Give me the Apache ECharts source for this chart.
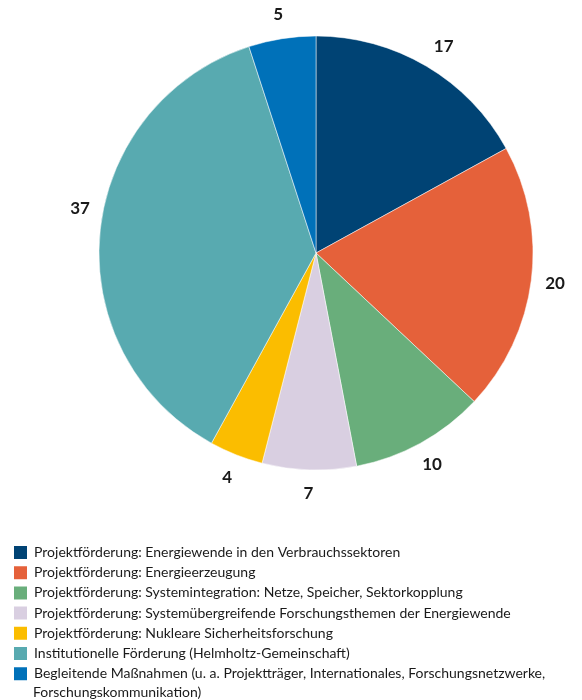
<!DOCTYPE html>
<html>
<head>
<meta charset="utf-8">
<script src="https://cdn.jsdelivr.net/npm/echarts@6/dist/echarts.min.js"></script>
<style>
    html, body { margin: 0; padding: 0; background: #fff; }
    #chart { width: 582px; height: 700px; }
</style>
</head>
<body>
<div id="chart"></div>
<script>
// Anteile in Prozent
var categories = [
    'Projektförderung: Energiewende in den Verbrauchssektoren',
    'Projektförderung: Energieerzeugung',
    'Projektförderung: Systemintegration: Netze, Speicher, Sektorkopplung',
    'Projektförderung: Systemübergreifende Forschungsthemen der Energiewende',
    'Projektförderung: Nukleare Sicherheitsforschung',
    'Institutionelle Förderung (Helmholtz-Gemeinschaft)',
    'Begleitende Maßnahmen (u. a. Projektträger, Internationales, Forschungsnetzwerke, Forschungskommunikation)'
]
var values = [17, 20, 10, 7, 4, 37, 5]
var colors = ['#004374', '#e5613a', '#69ae7b', '#d9cfe1', '#fbbd00', '#58aab0', '#0071b9']

var font = 'Lato'
var center = [316, 253]
var wrapAt = 'Forschungsnetzwerke, '

var pieData = categories.map(function (name, i) {
    return { name: name, value: values[i], itemStyle: { color: colors[i] } }
})

// transparente Hülle nur für die Zahlen außen
var labelData = categories.map(function (name, i) {
    var item = { name: name, value: values[i] }
    if (i === 0) item.label = { offset: [5, 1] }
    if (i === 5) item.label = { offset: [4, -22] }
    return item
})

// langer Legendeneintrag: erste Zeile in der Legende, Rest als Text darunter
var longName = categories[6]
var cut = longName.indexOf(wrapAt) + wrapAt.length
var firstLine = longName.slice(0, cut).trim()
var secondLine = longName.slice(cut)

var myChart = echarts.init(document.getElementById('chart'))
var option = {
    animation: false,
    legend: {
        orient: 'vertical',
        left: 12,
        top: 544,
        height: 160,
        padding: 0,
        itemWidth: 15,
        itemHeight: 15,
        itemGap: 3.2,
        icon: 'rect',
        selectedMode: false,
        data: categories,
        formatter: function (name) {
            return name === longName ? firstLine : name
        },
        textStyle: {
            fontFamily: font,
            fontSize: 14,
            color: '#1a1a1a',
            padding: [0, 0, 0, 1]
        }
    },
    graphic: [{
        type: 'text',
        left: 33,
        top: 685,
        style: {
            text: secondLine,
            fontFamily: font,
            fontSize: 14,
            fill: '#1a1a1a'
        }
    }],
    series: [
        {
            type: 'pie',
            center: center,
            radius: [0, 217],
            startAngle: 90,
            clockwise: true,
            silent: true,
            itemStyle: { borderColor: '#fff', borderWidth: 0.5 },
            label: { show: false },
            labelLine: { show: false },
            data: pieData
        },
        {
            type: 'pie',
            center: center,
            radius: [226, 250],
            startAngle: 90,
            clockwise: true,
            silent: true,
            itemStyle: { color: 'rgba(0,0,0,0)' },
            label: {
                show: true,
                position: 'inside',
                formatter: '{c}',
                fontFamily: font,
                fontWeight: 'bold',
                fontSize: 17,
                color: '#1a1a1a'
            },
            labelLine: { show: false },
            data: labelData
        }
    ]
}
myChart.setOption(option)
</script>
</body>
</html>
